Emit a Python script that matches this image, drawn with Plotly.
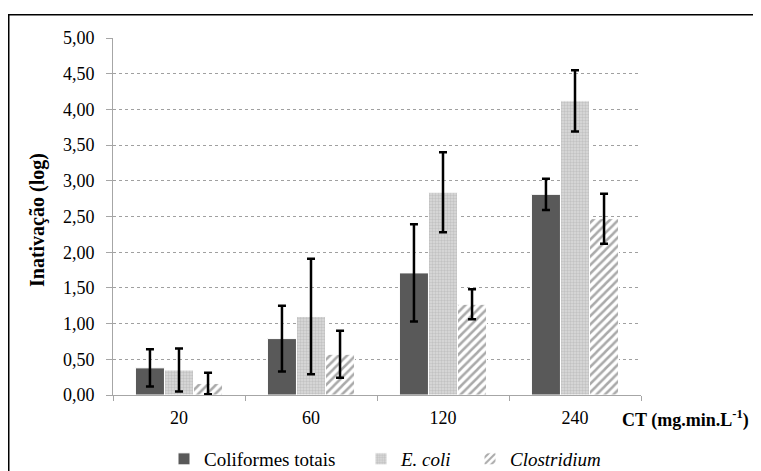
import plotly.graph_objects as go

categories = ["20", "60", "120", "240"]
coliformes = [0.38, 0.79, 1.71, 2.81]
coliformes_err = [0.26, 0.46, 0.68, 0.22]
ecoli = [0.35, 1.10, 2.84, 4.12]
ecoli_err = [0.30, 0.81, 0.56, 0.43]
clostridium = [0.16, 0.57, 1.27, 2.47]
clostridium_err = [0.15, 0.33, 0.21, 0.35]
yticks = [0, 0.5, 1, 1.5, 2, 2.5, 3, 3.5, 4, 4.5, 5]
yticklabels = ["0,00", "0,50", "1,00", "1,50", "2,00", "2,50", "3,00", "3,50", "4,00", "4,50", "5,00"]

FONT = "Times New Roman"

# page has an 8px body margin, so the figure is drawn at (8, 8)
W, H = 753, 463
L, R, T, B = 105, 120, 30, 76
PW = W - L - R
PH = H - T - B

def px_x(px):
    return (px - L) / PW

def px_y(py):
    return (H - B - py) / PH

def err(v):
    return dict(type="data", array=v, visible=True, color="black", thickness=2.5, width=4)

fig = go.Figure()
fig.add_trace(go.Bar(
    x=categories, y=coliformes, name="Coliformes totais", legend="legend",
    marker=dict(color="#595959", line=dict(color="white", width=1)),
    error_y=err(coliformes_err)))
fig.add_trace(go.Bar(
    x=categories, y=ecoli, name="<i>E. coli</i>", legend="legend2",
    marker=dict(color="#d0d0d0", line=dict(color="white", width=1),
                pattern=dict(shape=".", fgcolor="#a8a8a8", bgcolor="#dcdcdc", size=3, solidity=0.5)),
    error_y=err(ecoli_err)))
fig.add_trace(go.Bar(
    x=categories, y=clostridium, name="<i>Clostridium</i>", legend="legend3",
    marker=dict(color="white", line=dict(color="white", width=1),
                pattern=dict(shape="/", fgcolor="#555555", bgcolor="white", size=6, solidity=0.42)),
    error_y=err(clostridium_err)))

def leg(text_left):
    return dict(orientation="h", x=px_x(text_left - 38), xanchor="left",
                y=px_y(451), yanchor="middle", font=dict(family=FONT, size=19),
                itemwidth=30, bgcolor="rgba(0,0,0,0)")

fig.update_layout(
    width=W, height=H,
    margin=dict(l=L, r=R, t=T, b=B, autoexpand=False),
    paper_bgcolor="white", plot_bgcolor="white",
    barmode="group", bargap=0.34, bargroupgap=0.0,
    font=dict(family=FONT, size=18, color="black"),
    showlegend=True,
    legend=leg(194), legend2=leg(391), legend3=leg(500),
    xaxis=dict(type="category", showline=True, linecolor="#a6a6a6", linewidth=1,
               ticks="outside", tickson="boundaries", ticklen=5, tickcolor="#a6a6a6",
               showgrid=False, tickfont=dict(family=FONT, size=18), automargin=False,
               ticklabelstandoff=6),
    yaxis=dict(range=[0, 5], tickvals=yticks, ticktext=yticklabels,
               showline=True, linecolor="#a6a6a6", linewidth=1,
               ticks="outside", ticklen=6, tickcolor="#a6a6a6",
               showgrid=True, gridcolor="#a0a0a0", griddash="dot", gridwidth=1,
               zeroline=False, tickfont=dict(family=FONT, size=18), automargin=False,
               ticklabelstandoff=8),
    annotations=[
        dict(text="<b>CT (mg.min.L<sup>-1</sup>)</b>", xref="paper", yref="paper",
             x=px_x(612), y=px_y(411), xanchor="left", yanchor="middle", showarrow=False,
             font=dict(family=FONT, size=18)),
        dict(text="<b>Inativação (log)</b>", xref="paper", yref="paper", textangle=-90,
             x=px_x(29), y=px_y(212), xanchor="center", yanchor="middle", showarrow=False,
             font=dict(family=FONT, size=20)),
    ],
    shapes=[dict(type="rect", xref="paper", yref="paper", x0=px_x(0.75), x1=px_x(800),
                 y0=px_y(520), y1=px_y(6.75),
                 line=dict(color="black", width=1.5), fillcolor="rgba(0,0,0,0)", layer="below")],
)

fig.write_html("out.html")
